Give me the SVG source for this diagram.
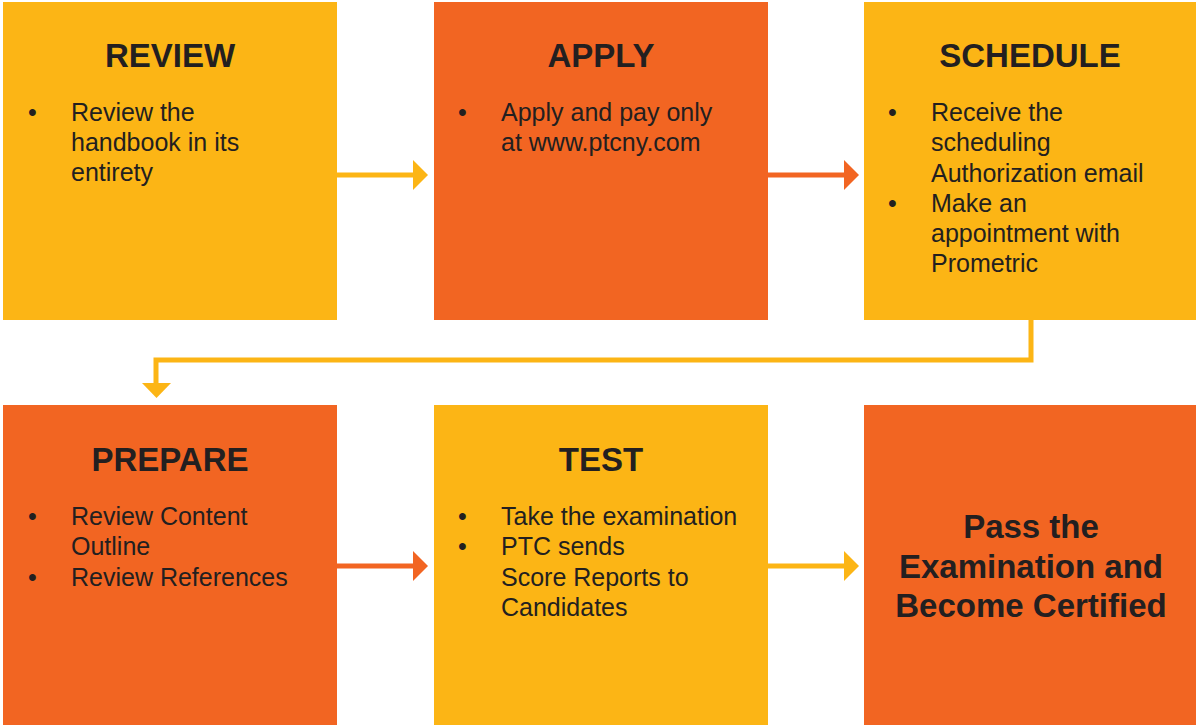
<svg xmlns="http://www.w3.org/2000/svg" width="1196" height="725" viewBox="0 0 1196 725">
<style>
.y{fill:#FCB515}
.o{fill:#F26522}
.t{font-family:"Liberation Sans",Arial,sans-serif;font-weight:bold;font-size:33px;fill:#231F20;text-anchor:middle}
.b{font-family:"Liberation Sans",Arial,sans-serif;font-size:25px;fill:#231F20}
.ly{stroke:#FCB515;stroke-width:5;fill:none}
.lo{stroke:#F26522;stroke-width:5;fill:none}
</style>
<rect width="1196" height="725" fill="#fff"/>
<g id="connectors">
<line class="ly" x1="337" y1="175" x2="414" y2="175"/>
<polygon class="y" points="413,160 428,175 413,190"/>
<line class="lo" x1="768" y1="175" x2="845" y2="175"/>
<polygon class="o" points="844,160 859,175 844,190"/>
<polyline class="ly" points="1031,320 1031,360 156,360 156,384"/>
<polygon class="y" points="142,383 171,383 156.5,398"/>
<line class="lo" x1="337" y1="566" x2="414" y2="566"/>
<polygon class="o" points="413,551 428,566 413,581"/>
<line class="ly" x1="768" y1="566" x2="845" y2="566"/>
<polygon class="y" points="844,551 859,566 844,581"/>
</g>
<g id="review">
<rect class="y" x="3" y="2" width="334" height="318"/>
<text class="t" x="170" y="67">REVIEW</text>
<text class="b" x="28" y="121">•</text>
<text class="b" x="71" y="121">Review the</text>
<text class="b" x="71" y="151">handbook in its</text>
<text class="b" x="71" y="181">entirety</text>
</g>
<g id="apply">
<rect class="o" x="434" y="2" width="334" height="318"/>
<text class="t" x="601" y="67">APPLY</text>
<text class="b" x="458" y="121">•</text>
<text class="b" x="501" y="121">Apply and pay only</text>
<text class="b" x="501" y="151">at www.ptcny.com</text>
</g>
<g id="schedule">
<rect class="y" x="864" y="2" width="332" height="318"/>
<text class="t" x="1030" y="67">SCHEDULE</text>
<text class="b" x="888" y="121">•</text>
<text class="b" x="931" y="121">Receive the</text>
<text class="b" x="931" y="151">scheduling</text>
<text class="b" x="931" y="182">Authorization email</text>
<text class="b" x="888" y="212">•</text>
<text class="b" x="931" y="212">Make an</text>
<text class="b" x="931" y="242">appointment with</text>
<text class="b" x="931" y="272">Prometric</text>
</g>
<g id="prepare">
<rect class="o" x="3" y="405" width="334" height="320"/>
<text class="t" x="170" y="471">PREPARE</text>
<text class="b" x="28" y="525">•</text>
<text class="b" x="71" y="525">Review Content</text>
<text class="b" x="71" y="555">Outline</text>
<text class="b" x="28" y="586">•</text>
<text class="b" x="71" y="586">Review References</text>
</g>
<g id="test">
<rect class="y" x="434" y="405" width="334" height="320"/>
<text class="t" x="601" y="471">TEST</text>
<text class="b" x="458" y="525">•</text>
<text class="b" x="501" y="525">Take the examination</text>
<text class="b" x="458" y="555">•</text>
<text class="b" x="501" y="555">PTC sends</text>
<text class="b" x="501" y="586">Score Reports to</text>
<text class="b" x="501" y="616">Candidates</text>
</g>
<g id="pass">
<rect class="o" x="864" y="405" width="332" height="320"/>
<text class="t" x="1031" y="538">Pass the</text>
<text class="t" x="1031" y="578">Examination and</text>
<text class="t" x="1031" y="617">Become Certified</text>
</g>
</svg>
